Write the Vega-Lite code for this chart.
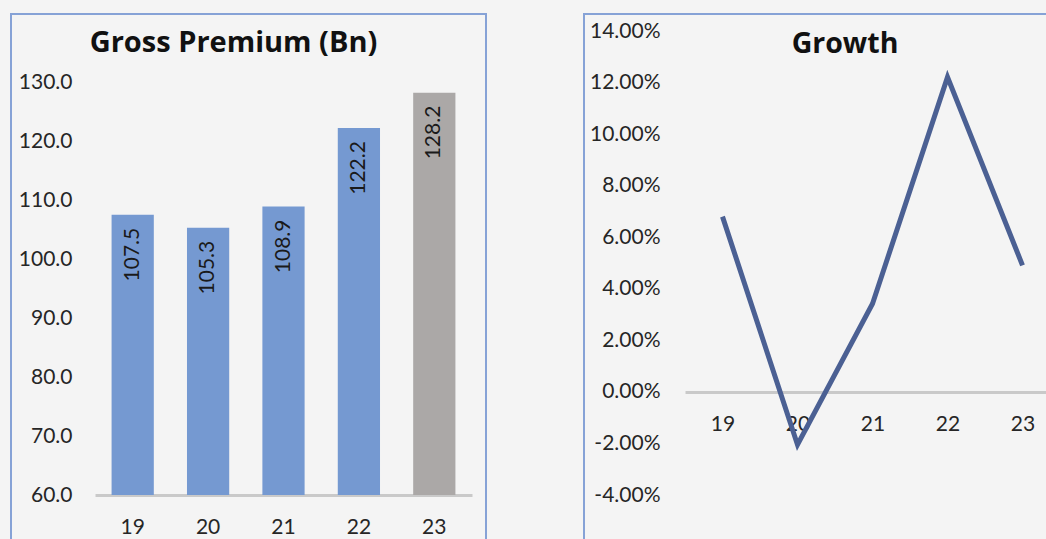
{
  "$schema": "https://vega.github.io/schema/vega-lite/v6.json",
  "background": "#f4f4f4",
  "padding": {"left": 10, "top": 13, "right": 0, "bottom": 0},
  "spacing": 96,
  "config": {
    "view": {"stroke": "#86a2d6", "strokeWidth": 2},
    "axis": {"labelFont": "Lato", "labelFontSize": 21, "labelColor": "#262626", "ticks": false, "grid": false, "title": null},
    "title": {"font": "Open Sans", "fontSize": 29, "fontWeight": "bold", "color": "#111111"}
  },
  "datasets": {
    "rows": [
      {"year": "19", "premium": 107.5, "growth": 0.068},
      {"year": "20", "premium": 105.3, "growth": -0.0205},
      {"year": "21", "premium": 108.9, "growth": 0.0342},
      {"year": "22", "premium": 122.2, "growth": 0.1221},
      {"year": "23", "premium": 128.2, "growth": 0.0491}
    ]
  },
  "hconcat": [
    {
      "width": 475,
      "height": 550,
      "title": {"text": "Gross Premium (Bn)", "offset": -67, "baseline": "alphabetic", "dx": -15},
      "data": {"name": "rows"},
      "encoding": {
        "x": {"field": "year", "type": "ordinal", "scale": {"range": [84, 461], "paddingInner": 0.44, "paddingOuter": 0.22},
              "axis": {"offset": -69, "domainColor": "#c9c9c9", "domainWidth": 3, "labelPadding": 21, "labelAngle": 0}},
        "y": {"field": "premium", "type": "quantitative", "scale": {"domain": [48.31, 141.53], "nice": false, "zero": false},
              "axis": {"offset": -66, "labelPadding": 5, "domain": false, "values": [60, 70, 80, 90, 100, 110, 120, 130], "format": ".1f"}}
      },
      "layer": [
        {
          "mark": {"type": "bar"},
          "encoding": {
            "y2": {"datum": 60},
            "color": {"condition": {"test": "datum.year == '23'", "value": "#aba8a7"}, "value": "#7599d1"}
          }
        },
        {
          "mark": {"type": "text", "angle": 270, "align": "right", "baseline": "middle", "dx": -13, "font": "Lato", "fontSize": 21, "color": "#1a1a1a"},
          "encoding": {"text": {"field": "premium", "type": "quantitative", "format": ".1f"}}
        }
      ]
    },
    {
      "width": 480,
      "height": 550,
      "title": {"text": "Growth", "offset": -67, "baseline": "alphabetic", "dx": 21, "fontSize": 28.5},
      "data": {"name": "rows"},
      "mark": {"type": "line", "color": "#4b6093", "strokeWidth": 5},
      "encoding": {
        "x": {"field": "year", "type": "ordinal", "scale": {"type": "point", "range": [101, 476], "padding": 0.5},
              "axis": {"offset": -172, "domainColor": "#c9c9c9", "domainWidth": 3, "labelPadding": 21, "labelAngle": 0}},
        "y": {"field": "growth", "type": "quantitative", "scale": {"domain": [-0.06676, 0.1466], "nice": false, "zero": false},
              "axis": {"offset": -81, "labelPadding": 5, "domain": false, "values": [-0.04, -0.02, 0, 0.02, 0.04, 0.06, 0.08, 0.1, 0.12, 0.14], "format": ".2%", "labelExpr": "replace(datum.label, '\u2212', '-')"}}
      }
    }
  ]
}
